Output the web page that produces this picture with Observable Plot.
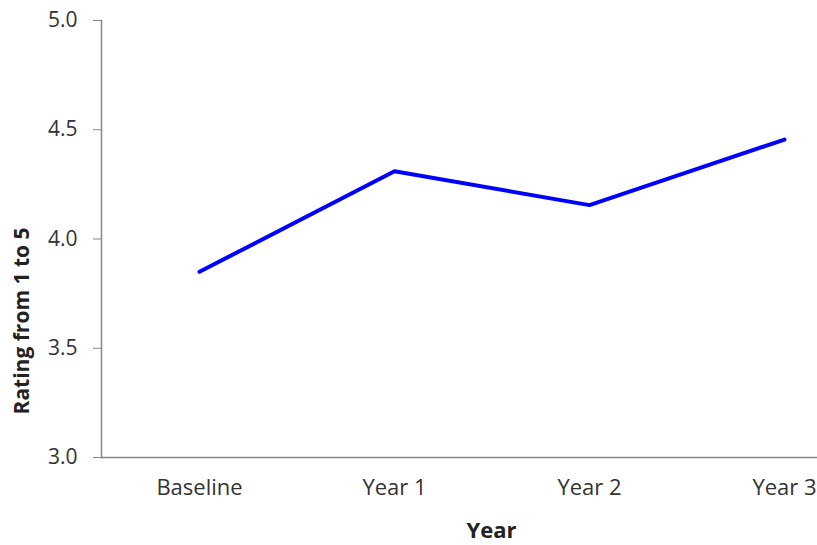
<!DOCTYPE html>
<html>
<head>
<meta charset="utf-8">
<script src="https://cdn.jsdelivr.net/npm/d3@7"></script>
<script src="https://cdn.jsdelivr.net/npm/@observablehq/plot@0.6"></script>
<style>
  html, body { margin: 0; padding: 0; background: #fff; }
  #chart svg { display: block; }
</style>
</head>
<body>
<div id="chart"></div>
<script>
const categories = ["Baseline", "Year 1", "Year 2", "Year 3"];
const ratings = [3.85, 4.31, 4.155, 4.455];
const yTicks = [3.0, 3.5, 4.0, 4.5, 5.0];
const xLabel = "Year";
const yLabel = "Rating from 1 to 5";

const data = categories.map((c, i) => ({category: c, rating: ratings[i]}));

const chart = Plot.plot({
  width: 817,
  height: 545,
  marginLeft: 101,
  marginRight: 0,
  marginTop: 20,
  marginBottom: 88,
  style: {fontFamily: "'Open Sans', sans-serif", background: "#fff"},
  x: {type: "point", domain: categories, range: [198.5, 783.5], padding: 0},
  y: {domain: [3, 5]},
  marks: [
    Plot.axisY({ticks: yTicks, tickFormat: d3.format(".1f"), tickSize: 8, tickPadding: 16,
      fontSize: 21, stroke: "#868686", color: "#333", label: null}),
    Plot.axisX({tickSize: 0, tickPadding: 22, fontSize: 22, color: "#333", label: null}),
    Plot.ruleY([3], {stroke: "#868686", strokeWidth: 1.5}),
    Plot.frame({anchor: "left", stroke: "#868686", strokeWidth: 1.5}),
    Plot.line(data, {x: "category", y: "rating", stroke: "#0000ff", strokeWidth: 4, strokeLinejoin: "miter"}),
    Plot.text([xLabel], {frameAnchor: "bottom", dx: 32, dy: 80, fontSize: 22, fontWeight: "bold", fill: "#222"}),
    Plot.text([yLabel], {frameAnchor: "left", textAnchor: "middle", dx: -79, dy: 82, rotate: -90, fontSize: 21, fontWeight: "bold", fill: "#222"})
  ]
});
document.getElementById("chart").appendChild(chart);
</script>
</body>
</html>
